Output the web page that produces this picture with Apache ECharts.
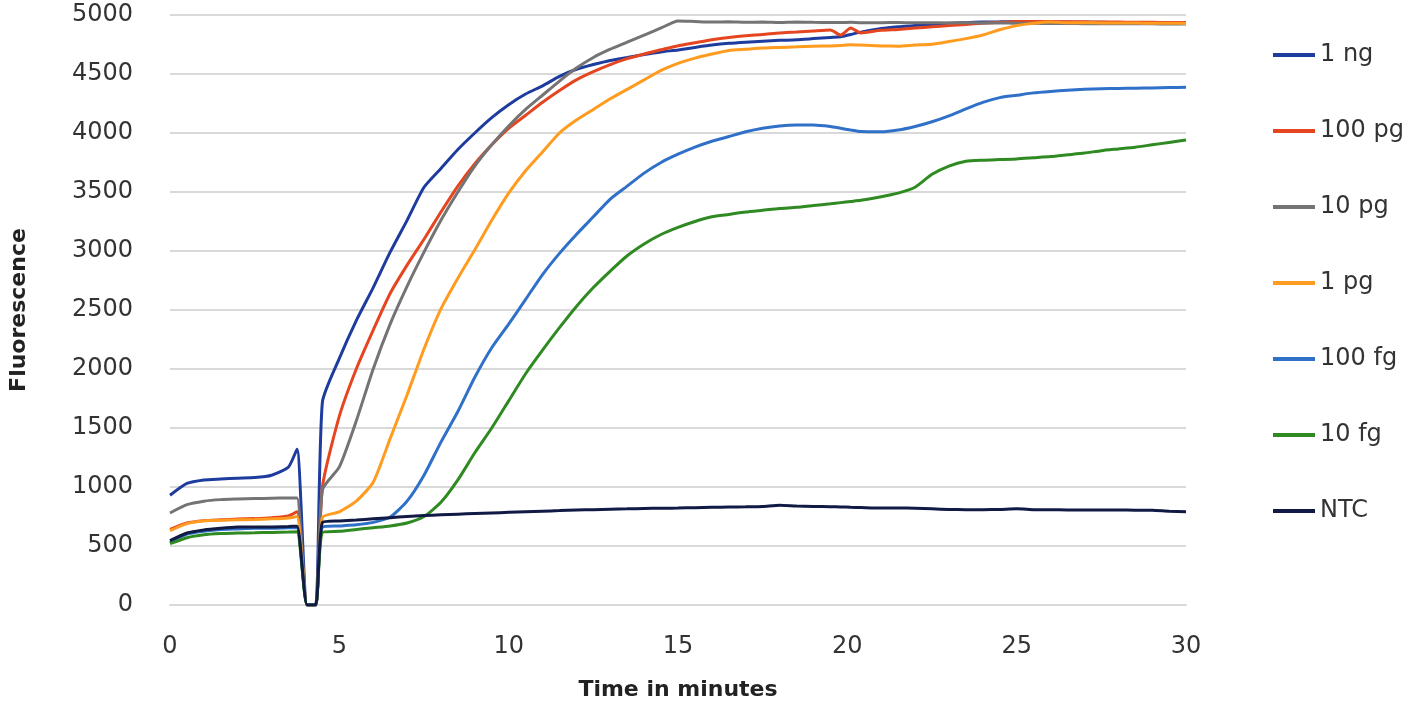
<!DOCTYPE html>
<html>
<head>
<meta charset="utf-8">
<script src="https://cdn.jsdelivr.net/npm/echarts@6/dist/echarts.min.js"></script>
<style>
html,body{margin:0;padding:0;background:#fff;}
#chart{width:1418px;height:710px;}
</style>
</head>
<body>
<div id="chart"></div>
<script>
// Time in minutes (x values shared by all series)
var times = [0,0.5,1,1.5,2,2.5,3,3.5,3.75,4.05,4.3,4.5,
  5,5.5,6,6.5,7,7.5,8,8.5,9,9.5,10,10.5,11,11.5,12,12.5,13,13.5,14,14.5,15,15.5,16,16.5,17,17.5,18,18.5,19,19.5,
  19.8,20.1,20.4,
  21,21.5,22,22.5,23,23.5,24,24.5,25,25.5,26,26.5,27,27.5,28,28.5,29,29.5,30];

var seriesNames = ['1 ng','100 pg','10 pg','1 pg','100 fg','10 fg','NTC'];

var ng1 = [930,1030,1060,1068,1075,1080,1100,1170,1320,0,0,1720,
  2090,2410,2690,2990,3260,3540,3700,3860,4000,4130,4240,4330,4400,4480,4540,4580,4615,4640,4665,4687,4704,4725,4745,4760,4770,4778,4785,4790,4800,4810,
  4815,4835,4855,
  4885,4900,4910,4920,4930,4935,4940,4942,4945,4942,4940,4940,4938,4938,4936,4935,4935,4934,4933];

var pg100 = [640,695,715,722,728,732,740,755,790,0,0,1000,
  1600,2000,2330,2640,2880,3100,3330,3550,3740,3900,4040,4150,4260,4360,4450,4520,4580,4630,4670,4705,4740,4765,4790,4810,4825,4835,4848,4856,4865,4873,
  4830,4890,4848,
  4870,4878,4890,4900,4910,4920,4930,4938,4945,4945,4945,4942,4942,4940,4940,4938,4938,4936,4935];

var pg10 = [780,850,880,893,898,902,905,907,907,0,0,975,
  1170,1560,2000,2380,2700,2990,3260,3500,3720,3900,4060,4200,4320,4440,4550,4640,4710,4770,4830,4890,4950,4945,4940,4942,4938,4940,4936,4940,4938,4937,
  4936,4938,4935,
  4935,4936,4934,4935,4933,4935,4932,4933,4930,4930,4928,4928,4926,4926,4925,4926,4925,4924,4924];

var pg1 = [630,690,712,718,722,725,730,738,750,0,0,740,
  790,880,1040,1410,1780,2170,2510,2770,3010,3260,3490,3680,3840,4000,4110,4200,4290,4370,4450,4530,4590,4635,4670,4700,4710,4720,4725,4730,4735,4738,
  4742,4748,4745,
  4738,4736,4745,4752,4775,4800,4830,4875,4910,4930,4940,4935,4935,4933,4932,4932,4930,4930,4928];

var fg100 = [530,600,625,640,645,650,650,655,655,0,0,660,
  670,680,700,745,880,1100,1380,1640,1930,2180,2380,2590,2800,2980,3140,3290,3440,3550,3660,3750,3820,3880,3930,3970,4010,4040,4060,4068,4068,4055,
  4040,4025,4012,
  4010,4025,4055,4095,4145,4205,4260,4300,4320,4340,4352,4362,4370,4375,4378,4380,4382,4385,4388];

var fg10 = [520,570,595,605,610,612,615,618,620,0,0,615,
  625,640,655,670,695,750,870,1060,1290,1500,1730,1960,2160,2350,2530,2690,2830,2960,3060,3140,3200,3250,3290,3310,3330,3345,3360,3370,3385,3400,
  3410,3420,3430,
  3460,3490,3540,3650,3720,3760,3770,3775,3780,3790,3800,3815,3830,3850,3865,3880,3900,3920,3940];

var ntc = [545,610,636,650,660,662,662,665,668,0,0,700,
  712,720,730,740,750,758,765,770,775,780,785,790,795,800,805,808,812,815,818,820,822,825,828,830,832,835,845,838,835,833,
  831,828,826,
  822,822,820,815,810,808,808,810,815,808,807,806,805,805,805,804,803,795,790];

var yTicks = [0,500,1000,1500,2000,2500,3000,3500,4000,4500,5000];
var xTicks = [0,5,10,15,20,25,30];

var colors = ['#1e3c9e','#e5461f','#747474','#ff9c20','#2f70c8','#2f8a22','#101a44'];
var values = [ng1,pg100,pg10,pg1,fg100,fg10,ntc];

function pairs(arr){
  var out = [];
  for (var i = 0; i < times.length; i++) out.push([times[i], arr[i]]);
  return out;
}

var series = seriesNames.map(function(name, i){
  return {
    name: name,
    type: 'line',
    data: pairs(values[i]),
    showSymbol: false,
    symbol: 'none',
    smooth: 0.2,
    lineStyle: {width: 3, color: colors[i]},
    itemStyle: {color: colors[i]},
    emphasis: {disabled: true}
  };
});

var chart = echarts.init(document.getElementById('chart'), null, {renderer: 'canvas'});
chart.setOption({
  animation: false,
  backgroundColor: '#ffffff',
  grid: {left: 170, right: 232, top: 15, bottom: 105, containLabel: false},
  legend: {
    orient: 'vertical',
    left: 1268,
    top: 38,
    itemWidth: 42,
    itemHeight: 4,
    itemGap: 52,
    icon: 'rect',
    data: seriesNames,
    textStyle: {fontFamily: 'DejaVu Sans', fontSize: 24, color: '#333333', lineHeight: 24}
  },
  xAxis: {
    type: 'value',
    min: xTicks[0],
    max: xTicks[xTicks.length - 1],
    interval: 5,
    name: 'Time in minutes',
    nameLocation: 'middle',
    nameGap: 74,
    nameTextStyle: {fontFamily: 'DejaVu Sans', fontWeight: 'bold', fontSize: 22, color: '#222222'},
    axisLine: {show: true, lineStyle: {color: '#d9d9d9', width: 2}},
    axisTick: {show: false},
    splitLine: {show: false},
    axisLabel: {margin: 30, fontFamily: 'DejaVu Sans', fontSize: 24, color: '#333333',
      formatter: function(v){ return String(v); }}
  },
  yAxis: {
    type: 'value',
    min: yTicks[0],
    max: yTicks[yTicks.length - 1],
    interval: 500,
    name: 'Fluorescence',
    nameLocation: 'middle',
    nameGap: 140,
    nameRotate: 90,
    nameTextStyle: {fontFamily: 'DejaVu Sans', fontWeight: 'bold', fontSize: 22, color: '#222222'},
    axisLine: {show: false},
    axisTick: {show: false},
    splitLine: {show: true, lineStyle: {color: '#d9d9d9', width: 2}},
    axisLabel: {margin: 37, fontFamily: 'DejaVu Sans', fontSize: 24, color: '#333333',
      formatter: function(v){ return String(v); }}
  },
  series: series
});
</script>
</body>
</html>
